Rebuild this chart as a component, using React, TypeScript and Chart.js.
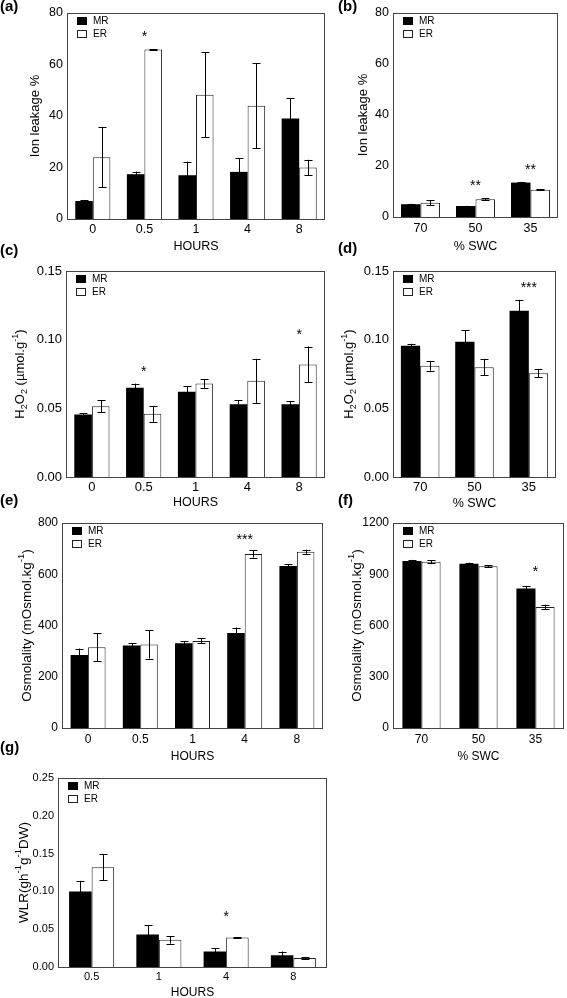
import React, { useEffect, useRef } from 'react';
import { Chart, registerables } from 'chart.js';

Chart.register(...registerables);

const FONT = '"Liberation Sans", Arial, sans-serif';
Chart.defaults.font.family = FONT;

// ---------- categories ----------
const hours = ['0', '0.5', '1', '4', '8'];
const swc = ['70', '50', '35'];
const wlrHours = ['0.5', '1', '4', '8'];

// ---------- (a) Ion leakage vs hours ----------
const aMR = [7.0, 17.4, 17.0, 18.3, 39.0];
const aMRerr = [0.4, 1.0, 5.3, 5.2, 8.0];
const aER = [24.0, 65.8, 48.3, 44.0, 20.0];
const aERerr = [11.6, 0.2, 16.5, 16.5, 3.0];
const aStars = ['', '*', '', '', ''];

// ---------- (b) Ion leakage vs SWC ----------
const bMR = [5.0, 4.3, 13.5];
const bMRerr = [0.2, 0.1, 0.3];
const bER = [5.6, 7.0, 10.7];
const bERerr = [0.9, 0.3, 0.3];
const bStars = ['', '**', '**'];

// ---------- (c) H2O2 vs hours ----------
const cMR = [0.0455, 0.065, 0.062, 0.053, 0.053];
const cMRerr = [0.001, 0.003, 0.004, 0.003, 0.002];
const cER = [0.0515, 0.046, 0.068, 0.07, 0.082];
const cERerr = [0.0045, 0.0058, 0.003, 0.016, 0.013];
const cStars = ['', '*', '', '', '*'];

// ---------- (d) H2O2 vs SWC ----------
const dMR = [0.0955, 0.0985, 0.121];
const dMRerr = [0.0015, 0.0085, 0.008];
const dER = [0.081, 0.08, 0.0755];
const dERerr = [0.0035, 0.006, 0.003];
const dStars = ['', '', '***'];

// ---------- (e) Osmolality vs hours ----------
const eMR = [285, 322, 331, 371, 632];
const eMRerr = [25, 9, 8, 21, 8];
const eER = [315, 326, 340, 679, 688];
const eERerr = [55, 55, 10, 14, 8];
const eStars = ['', '', '', '***', ''];

// ---------- (f) Osmolality vs SWC ----------
const fMR = [978, 962, 816];
const fMRerr = [6, 6, 14];
const fER = [973, 947, 709];
const fERerr = [9, 6, 13];
const fStars = ['', '', '*'];

// ---------- (g) WLR vs hours ----------
const gMR = [0.1, 0.043, 0.0205, 0.0155];
const gMRerr = [0.014, 0.012, 0.004, 0.005];
const gER = [0.132, 0.036, 0.039, 0.012];
const gERerr = [0.017, 0.005, 0.0008, 0.0008];
const gStars = ['', '', '*', ''];

type Seg = { t: string; sub?: boolean; sup?: boolean };

const ionTitle: Seg[] = [{ t: 'Ion leakage %' }];
const h2o2Title: Seg[] = [
  { t: 'H' }, { t: '2', sub: true }, { t: 'O' }, { t: '2', sub: true },
  { t: ' (µmol.g' }, { t: '-1', sup: true }, { t: ')' },
];
const osmTitle: Seg[] = [{ t: 'Osmolality (mOsmol.kg' }, { t: '-1', sup: true }, { t: ')' }];
const wlrTitle: Seg[] = [
  { t: 'WLR(gh' }, { t: '-1', sup: true }, { t: 'g' }, { t: '-1', sup: true }, { t: 'DW)' },
];

type Panel = {
  label: string; labelX: number; labelY: number;
  x: number; y: number; w: number; h: number;
  l: number; r: number; t: number; b: number;
  cats: string[]; mr: number[]; mrErr: number[]; er: number[]; erErr: number[]; stars: string[];
  yMax: number; yStep: number; dec: number;
  yTitle: Seg[]; yTitleX: number; yTitleSize: number;
  xTitle: string; xTitleY: number; xTitleSize: number;
  tickSize: number; xPad: number; cp: number; starGap: number;
};

const panels: Panel[] = [
  {
    label: '(a)', labelX: 0, labelY: 7, x: 0, y: 0, w: 336, h: 258,
    l: 67, r: 325, t: 13, b: 219,
    cats: hours, mr: aMR, mrErr: aMRerr, er: aER, erErr: aERerr, stars: aStars,
    yMax: 80, yStep: 20, dec: 0, yTitle: ionTitle, yTitleX: 35, yTitleSize: 13,
    xTitle: 'HOURS', xTitleY: 247, xTitleSize: 12.5, tickSize: 12.5, xPad: 3, cp: 0.68, starGap: 16,
  },
  {
    label: '(b)', labelX: 338, labelY: 7, x: 332, y: 0, w: 235, h: 258,
    l: 393, r: 558, t: 13, b: 217,
    cats: swc, mr: bMR, mrErr: bMRerr, er: bER, erErr: bERerr, stars: bStars,
    yMax: 80, yStep: 20, dec: 0, yTitle: ionTitle, yTitleX: 363, yTitleSize: 13,
    xTitle: '% SWC', xTitleY: 247, xTitleSize: 12.5, tickSize: 12.5, xPad: 4, cp: 0.71, starGap: 16,
  },
  {
    label: '(c)', labelX: 0, labelY: 251, x: 0, y: 240, w: 336, h: 272,
    l: 66, r: 325, t: 271, b: 477,
    cats: hours, mr: cMR, mrErr: cMRerr, er: cER, erErr: cERerr, stars: cStars,
    yMax: 0.15, yStep: 0.05, dec: 2, yTitle: h2o2Title, yTitleX: 20, yTitleSize: 13,
    xTitle: 'HOURS', xTitleY: 503, xTitleSize: 12.5, tickSize: 13, xPad: 3, cp: 0.68, starGap: 16,
  },
  {
    label: '(d)', labelX: 338, labelY: 249, x: 332, y: 240, w: 235, h: 272,
    l: 393, r: 556, t: 271, b: 477,
    cats: swc, mr: dMR, mrErr: dMRerr, er: dER, erErr: dERerr, stars: dStars,
    yMax: 0.15, yStep: 0.05, dec: 2, yTitle: h2o2Title, yTitleX: 349, yTitleSize: 13,
    xTitle: '% SWC', xTitleY: 504, xTitleSize: 12.5, tickSize: 13, xPad: 3, cp: 0.71, starGap: 16,
  },
  {
    label: '(e)', labelX: 0, labelY: 501, x: 0, y: 490, w: 336, h: 276,
    l: 62, r: 323, t: 523, b: 728,
    cats: hours, mr: eMR, mrErr: eMRerr, er: eER, erErr: eERerr, stars: eStars,
    yMax: 800, yStep: 200, dec: 0, yTitle: osmTitle, yTitleX: 27, yTitleSize: 13.5,
    xTitle: 'HOURS', xTitleY: 757, xTitleSize: 12, tickSize: 12, xPad: 4, cp: 0.67, starGap: 14,
  },
  {
    label: '(f)', labelX: 338, labelY: 501, x: 332, y: 490, w: 235, h: 276,
    l: 393, r: 564, t: 523, b: 728,
    cats: swc, mr: fMR, mrErr: fMRerr, er: fER, erErr: fERerr, stars: fStars,
    yMax: 1200, yStep: 300, dec: 0, yTitle: osmTitle, yTitleX: 357, yTitleSize: 13.5,
    xTitle: '% SWC', xTitleY: 757, xTitleSize: 12, tickSize: 12, xPad: 4, cp: 0.67, starGap: 18,
  },
  {
    label: '(g)', labelX: 0, labelY: 748, x: 0, y: 738, w: 336, h: 260,
    l: 58, r: 327, t: 778, b: 967,
    cats: wlrHours, mr: gMR, mrErr: gMRerr, er: gER, erErr: gERerr, stars: gStars,
    yMax: 0.25, yStep: 0.05, dec: 2, yTitle: wlrTitle, yTitleX: 24, yTitleSize: 13.5,
    xTitle: 'HOURS', xTitleY: 993, xTitleSize: 12, tickSize: 11, xPad: 3, cp: 0.67, starGap: 24,
  },
];

function drawRich(ctx: CanvasRenderingContext2D, segs: Seg[], cx: number, cy: number, size: number) {
  const small = size * 0.7;
  let total = 0;
  const widths = segs.map((s) => {
    ctx.font = `${s.sub || s.sup ? small : size}px ${FONT}`;
    const w = ctx.measureText(s.t).width;
    total += w;
    return w;
  });
  let x = cx - total / 2;
  ctx.textAlign = 'left';
  ctx.textBaseline = 'middle';
  segs.forEach((s, i) => {
    ctx.font = `${s.sub || s.sup ? small : size}px ${FONT}`;
    const dy = s.sub ? size * 0.32 : s.sup ? -size * 0.38 : 0;
    ctx.fillText(s.t, x, cy + dy);
    x += widths[i];
  });
}

function overlay(p: Panel) {
  return {
    id: 'overlay',
    afterDatasetsDraw(chart: any) {
      const ctx: CanvasRenderingContext2D = chart.ctx;
      const ca = chart.chartArea;
      const ys = chart.scales.y;
      const xs = chart.scales.x;
      ctx.save();
      // error bars
      const vals = [p.mr, p.er];
      const errs = [p.mrErr, p.erErr];
      ctx.strokeStyle = '#000';
      ctx.lineWidth = 1;
      for (let d = 0; d < 2; d++) {
        const meta = chart.getDatasetMeta(d);
        meta.data.forEach((bar: any, j: number) => {
          const v = vals[d][j];
          const e = errs[d][j];
          const x = Math.round(bar.x) + 0.5;
          const y1 = ys.getPixelForValue(v + e);
          const y2 = ys.getPixelForValue(v - e);
          ctx.beginPath();
          ctx.moveTo(x, y1);
          ctx.lineTo(x, y2);
          ctx.moveTo(x - 4, Math.round(y1) + 0.5);
          ctx.lineTo(x + 4, Math.round(y1) + 0.5);
          ctx.moveTo(x - 4, Math.round(y2) + 0.5);
          ctx.lineTo(x + 4, Math.round(y2) + 0.5);
          ctx.stroke();
        });
      }
      // frame
      ctx.strokeStyle = '#444';
      ctx.lineWidth = 1;
      ctx.strokeRect(Math.round(ca.left) + 0.5, Math.round(ca.top) + 0.5,
        Math.round(ca.right - ca.left) - 1, Math.round(ca.bottom - ca.top));
      // stars
      ctx.fillStyle = '#000';
      ctx.font = `14px ${FONT}`;
      ctx.textAlign = 'center';
      ctx.textBaseline = 'alphabetic';
      p.stars.forEach((s, j) => {
        if (!s) return;
        const top = Math.max(p.mr[j] + p.mrErr[j], p.er[j] + p.erErr[j]);
        const yc = ys.getPixelForValue(top) - p.starGap;
        ctx.fillText(s, xs.getPixelForValue(j), yc + 8);
      });
      // legend
      const lx = ca.left + 10;
      ctx.fillStyle = '#000';
      ctx.fillRect(lx, ca.top + 4, 10, 8);
      ctx.strokeStyle = '#222';
      ctx.strokeRect(lx + 0.5, ca.top + 17.5, 9, 7);
      ctx.font = `10px ${FONT}`;
      ctx.textAlign = 'left';
      ctx.textBaseline = 'middle';
      ctx.fillText('MR', lx + 16, ca.top + 8);
      ctx.fillText('ER', lx + 16, ca.top + 21);
      // y title
      ctx.save();
      ctx.translate(p.yTitleX - p.x, (ca.top + ca.bottom) / 2);
      ctx.rotate(-Math.PI / 2);
      drawRich(ctx, p.yTitle, 0, 0, p.yTitleSize);
      ctx.restore();
      // x title
      ctx.font = `${p.xTitleSize}px ${FONT}`;
      ctx.textAlign = 'center';
      ctx.textBaseline = 'middle';
      ctx.fillText(p.xTitle, (ca.left + ca.right) / 2, p.xTitleY - p.y);
      // panel label
      ctx.font = `bold 15px ${FONT}`;
      ctx.textAlign = 'left';
      ctx.fillText(p.label, p.labelX - p.x, p.labelY - p.y);
      ctx.restore();
    },
  };
}

function PanelChart({ p }: { p: Panel }) {
  const ref = useRef<HTMLCanvasElement | null>(null);
  useEffect(() => {
    const canvas = ref.current;
    if (!canvas) return;
    const chart = new Chart(canvas, {
      type: 'bar',
      data: {
        labels: p.cats,
        datasets: [
          {
            label: 'MR', data: p.mr, backgroundColor: '#000', borderWidth: 0,
            categoryPercentage: p.cp, barPercentage: 1,
          },
          {
            label: 'ER', data: p.er, backgroundColor: '#fff', borderColor: '#222', borderWidth: 1,
            categoryPercentage: p.cp, barPercentage: 1,
          },
        ],
      },
      options: {
        responsive: false,
        animation: false,
        devicePixelRatio: 1,
        layout: { padding: { top: p.t - p.y, right: p.x + p.w - p.r, left: 0, bottom: 0 } },
        plugins: { legend: { display: false }, tooltip: { enabled: false } },
        scales: {
          x: {
            grid: { display: false, drawTicks: false },
            border: { display: false },
            ticks: { padding: p.xPad, color: '#000', font: { size: p.tickSize }, maxRotation: 0, autoSkip: false },
            afterFit: (s: any) => { s.height = p.y + p.h - p.b; },
          },
          y: {
            min: 0,
            max: p.yMax,
            grid: { display: false, drawTicks: false },
            border: { display: false },
            ticks: {
              stepSize: p.yStep, padding: 4, color: '#000', font: { size: p.tickSize },
              callback: (v: any) => Number(v).toFixed(p.dec),
            },
            afterFit: (s: any) => { s.width = p.l - p.x; },
          },
        },
      } as any,
      plugins: [overlay(p)],
    });
    return () => chart.destroy();
  }, [p]);
  return (
    <canvas
      ref={ref}
      width={p.w}
      height={p.h}
      style={{ position: 'absolute', left: p.x, top: p.y, width: p.w, height: p.h }}
    />
  );
}

export default function App() {
  return (
    <div style={{ position: 'absolute', left: 0, top: 0, width: 567, height: 998, background: '#fff', overflow: 'hidden' }}>
      {panels.map((p) => (
        <PanelChart key={p.label} p={p} />
      ))}
    </div>
  );
}
